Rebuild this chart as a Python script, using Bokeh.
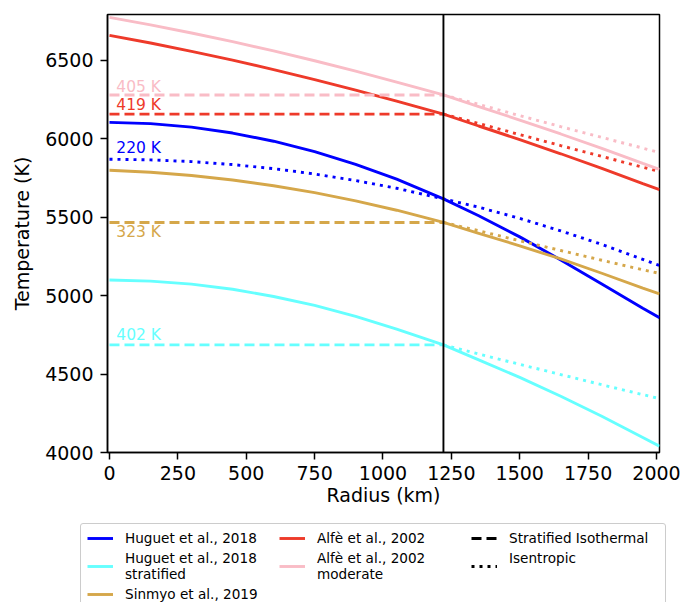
from bokeh.plotting import figure
from bokeh.layouts import column, row
from bokeh.models import Range1d, FixedTicker, Span, Legend, LegendItem
from bokeh.embed import file_html
from bokeh.resources import INLINE
from bokeh.core.properties import value

# ---------------- data ----------------
R_IN = [0, 150, 300, 450, 600, 750, 900, 1050, 1221]
R_OUT = [1221, 1350, 1500, 1650, 1800, 1950, 2011]
R_ALL = R_IN + R_OUT[1:]
R_ICB = 1221

huguet_T = [6105, 6097, 6075, 6037, 5985, 5918, 5838, 5743, 5617, 5510, 5375, 5228, 5075, 4920, 4860]
huguet_isen_T = [5870, 5866, 5855, 5836, 5810, 5776, 5734, 5685, 5617, 5564, 5493, 5413, 5327, 5232, 5192]

huguet_strat_T = [5100, 5093, 5074, 5041, 4995, 4938, 4868, 4786, 4686, 4591, 4479, 4359, 4231, 4096, 4040]
huguet_strat_isen_T = [4686, 4628, 4562, 4497, 4432, 4369, 4344]

sinmyo_T = [5800, 5787, 5766, 5738, 5701, 5657, 5605, 5545, 5467, 5398, 5318, 5234, 5143, 5048, 5012]
sinmyo_isen_T = [5467, 5414, 5350, 5288, 5226, 5165, 5142]

alfe_T = [6660, 6611, 6558, 6502, 6442, 6378, 6311, 6240, 6158, 6082, 5995, 5905, 5812, 5715, 5677]
alfe_isen_T = [6158, 6098, 6027, 5957, 5888, 5819, 5792]

alfe_mod_T = [6775, 6727, 6675, 6620, 6561, 6498, 6432, 6362, 6280, 6206, 6120, 6031, 5939, 5843, 5805]
alfe_mod_isen_T = [6280, 6220, 6148, 6078, 6009, 5941, 5913]

# stratified isothermal levels (0 .. ICB)
strat_levels = {"alfe_mod": 6280, "alfe": 6158, "sinmyo": 5467, "huguet_strat": 4686}

# annotation labels (text centre relative to the line level, in K)
ann_text = ["405 K", "419 K", "220 K", "323 K", "402 K"]
ann_level = [6280, 6158, 5870, 5467, 4686]
ann_dy = [51, 55, 69, -62, 63]

X_TICKS = [0, 250, 500, 750, 1000, 1250, 1500, 1750, 2000]
Y_TICKS = [4000, 4500, 5000, 5500, 6000, 6500]

legend_labels = ["Huguet et al., 2018", "Huguet et al., 2018\nstratified", "Sinmyo et al., 2019",
                 "Alfè et al., 2002", "Alfè et al., 2002\nmoderate", "Stratified Isothermal", "Isentropic\n "]

# ---------------- style ----------------
FONT = "DejaVu Sans"
C_BLUE = "#0000ff"
C_CYAN = "#66ffff"
C_GOLD = "#d5a74a"
C_RED = "#ee3a2a"
C_PINK = "#f9bcc6"
LW = 2.9
DASH = "10 5"
DOT = "3 5"

MAIN_H = 515
LEG_H = 602 - MAIN_H

p = figure(frame_width=552, frame_height=438, output_backend="svg", toolbar_location=None,
           x_range=Range1d(-7.3, 2011), y_range=Range1d(4000, 6793),
           min_border_left=107, min_border_right=38, min_border_top=14,
           min_border_bottom=MAIN_H - 14 - 438,
           background_fill_color="white", border_fill_color="white")
p.xgrid.visible = False
p.ygrid.visible = False
p.outline_line_color = "black"
p.outline_line_width = 1.5
p.outline_line_alpha = 1.0

p.xaxis.axis_label = "Radius (km)"
p.yaxis.axis_label = "Temperature (K)"
p.xaxis.ticker = FixedTicker(ticks=X_TICKS)
p.yaxis.ticker = FixedTicker(ticks=Y_TICKS)
for ax in (p.xaxis[0], p.yaxis[0]):
    ax.axis_label_text_font = FONT
    ax.axis_label_text_font_size = "19px"
    ax.axis_label_text_font_style = "normal"
    ax.axis_label_text_color = "black"
    ax.major_label_text_font = FONT
    ax.major_label_text_font_size = "19px"
    ax.major_label_text_color = "black"
    ax.axis_line_width = 1.5
    ax.axis_line_color = "black"
    ax.major_tick_line_width = 1.5
    ax.major_tick_line_color = "black"
    ax.major_tick_out = 7
    ax.major_tick_in = 0
    ax.minor_tick_line_color = None
p.xaxis.major_label_standoff = 6
p.xaxis.axis_label_standoff = 1
p.yaxis.major_label_standoff = 7
p.yaxis.axis_label_standoff = 9

R_DASH = [R_IN[0], R_ICB]

# Huguet 2018
p.line(R_ALL, huguet_T, line_color=C_BLUE, line_width=LW)
p.line(R_ALL, huguet_isen_T, line_color=C_BLUE, line_width=LW, line_dash=DOT)
# Huguet stratified
p.line(R_ALL, huguet_strat_T, line_color=C_CYAN, line_width=LW)
p.line(R_DASH, [strat_levels["huguet_strat"]] * 2, line_color=C_CYAN, line_width=LW, line_dash=DASH)
p.line(R_OUT, huguet_strat_isen_T, line_color=C_CYAN, line_width=LW, line_dash=DOT)
# Sinmyo
p.line(R_ALL, sinmyo_T, line_color=C_GOLD, line_width=LW)
p.line(R_DASH, [strat_levels["sinmyo"]] * 2, line_color=C_GOLD, line_width=LW, line_dash=DASH)
p.line(R_OUT, sinmyo_isen_T, line_color=C_GOLD, line_width=LW, line_dash=DOT)
# Alfe
p.line(R_ALL, alfe_T, line_color=C_RED, line_width=LW)
p.line(R_DASH, [strat_levels["alfe"]] * 2, line_color=C_RED, line_width=LW, line_dash=DASH)
p.line(R_OUT, alfe_isen_T, line_color=C_RED, line_width=LW, line_dash=DOT)
# Alfe moderate
p.line(R_ALL, alfe_mod_T, line_color=C_PINK, line_width=LW)
p.line(R_DASH, [strat_levels["alfe_mod"]] * 2, line_color=C_PINK, line_width=LW, line_dash=DASH)
p.line(R_OUT, alfe_mod_isen_T, line_color=C_PINK, line_width=LW, line_dash=DOT)

# annotations
ann_colors = [C_PINK, C_RED, C_BLUE, C_GOLD, C_CYAN]
ann_x = [25] * len(ann_text)
ann_y = [lv + d for lv, d in zip(ann_level, ann_dy)]
p.text(x=ann_x, y=ann_y, text=ann_text, text_color=ann_colors, text_font=value(FONT),
       text_font_size="15.5px", text_align="left", text_baseline="middle")

# inner core boundary
p.add_layout(Span(location=R_ICB, dimension="height", line_color="black", line_width=1.9))

# ---------------- legend strip ----------------
p2 = figure(width=697, height=LEG_H, output_backend="svg", toolbar_location=None,
            x_range=Range1d(0, 1), y_range=Range1d(0, 1),
            x_axis_location=None, y_axis_location=None,
            min_border=0, min_border_left=0, min_border_right=0, min_border_top=0, min_border_bottom=0,
            background_fill_color="white", border_fill_color="white")
p2.xgrid.visible = False
p2.ygrid.visible = False
p2.outline_line_color = None

NAN = float("nan")
styles = [(C_BLUE, None), (C_CYAN, None), (C_GOLD, None), (C_RED, None), (C_PINK, None),
          (None, None), ("black", DASH), ("black", DOT)]
handles = []
for col, dash in styles:
    kw = dict(line_width=LW)
    if col is None:
        kw.update(line_color="white", line_alpha=0)
    else:
        kw.update(line_color=col)
    if dash:
        kw.update(line_dash=dash)
    # legend-only renderer: a single NaN point, nothing drawn in the strip itself
    handles.append(p2.line([NAN], [NAN], **kw))

labels8 = legend_labels[:5] + [" "] + legend_labels[5:]
items = [LegendItem(label=lab, renderers=[h]) for lab, h in zip(labels8, handles)]
leg = Legend(items=items, location=(80, -7), orientation="vertical", nrows=3,
             label_text_font=FONT, label_text_font_size="13.6px", label_text_color="black",
             glyph_width=26, glyph_height=16, label_height=16, label_width=150, label_standoff=12,
             spacing=4, padding=6, margin=0,
             border_line_color="#cccccc", border_line_width=1.2, border_line_alpha=1,
             background_fill_color="white", background_fill_alpha=1)
if "border_radius" in Legend.properties():
    leg.border_radius = 3
p2.add_layout(leg)

layout = column(p, row(p2), spacing=0)
open("out.html", "w").write(file_html(layout, INLINE))
